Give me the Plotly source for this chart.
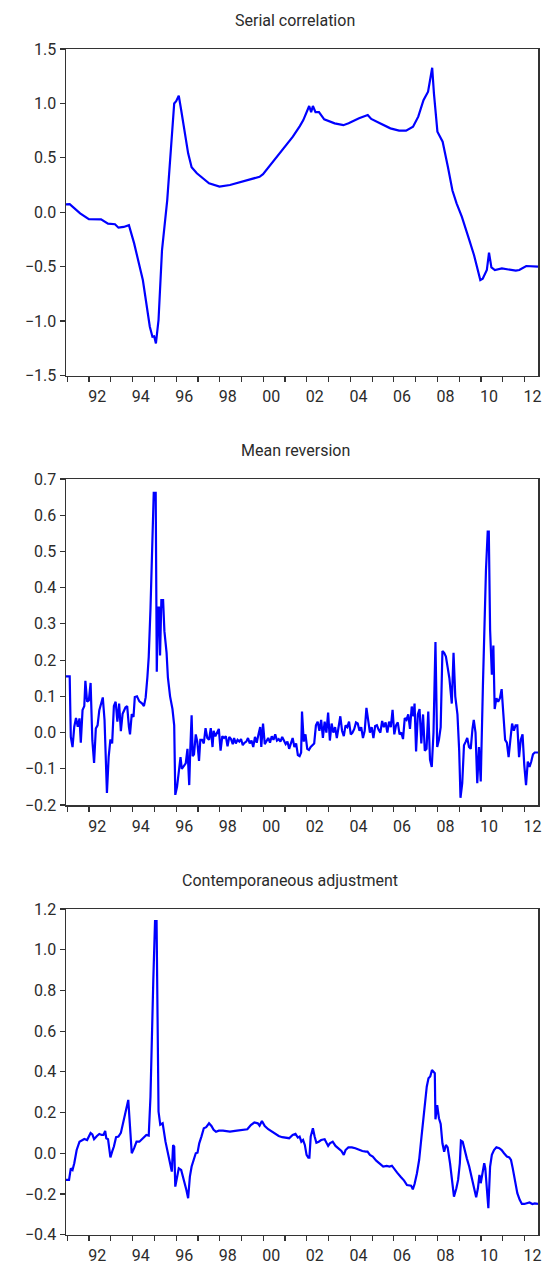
import plotly.graph_objects as go

# ---------------- data ----------------
sc_years = [1990.94, 1991.11, 1991.59, 1991.99, 1992.55, 1992.71, 1992.87, 1993.19, 1993.35, 1993.59,
            1993.83, 1994.07, 1994.47, 1994.79, 1994.91, 1994.99, 1995.07, 1995.19, 1995.35, 1995.59,
            1995.91, 1996.00, 1996.12, 1996.23, 1996.55, 1996.71, 1996.95, 1997.51, 1997.99, 1998.47,
            1999.11, 1999.83, 1999.99, 2000.71, 2001.36, 2001.68, 2001.84, 2002.11, 2002.20, 2002.28,
            2002.40, 2002.56, 2002.80, 2003.28, 2003.68, 2003.92, 2004.40, 2004.80, 2004.96, 2005.36,
            2005.84, 2006.24, 2006.56, 2006.88, 2007.12, 2007.36, 2007.57, 2007.76, 2007.84, 2008.00,
            2008.24, 2008.48, 2008.69, 2008.88, 2009.12, 2009.44, 2009.68, 2009.97, 2010.08, 2010.27,
            2010.37, 2010.48, 2010.64, 2010.96, 2011.28, 2011.60, 2011.76, 2012.08, 2012.62]
sc_vals = [0.073, 0.075, -0.010, -0.063, -0.065, -0.087, -0.105, -0.110, -0.142, -0.135,
           -0.118, -0.286, -0.623, -1.052, -1.144, -1.140, -1.205, -0.990, -0.347, 0.112,
           1.000, 1.020, 1.071, 0.940, 0.541, 0.413, 0.358, 0.266, 0.235, 0.250,
           0.287, 0.326, 0.350, 0.526, 0.694, 0.792, 0.847, 0.976, 0.920, 0.976,
           0.920, 0.920, 0.854, 0.817, 0.800, 0.817, 0.863, 0.893, 0.857, 0.817,
           0.771, 0.750, 0.750, 0.786, 0.878, 1.030, 1.108, 1.328, 1.093, 0.740,
           0.648, 0.418, 0.200, 0.082, -0.041, -0.240, -0.393, -0.623, -0.610, -0.531,
           -0.372, -0.506, -0.531, -0.516, -0.525, -0.537, -0.531, -0.494, -0.500]

mr_years = [1990.94, 1991.11, 1991.16, 1991.24, 1991.32, 1991.40, 1991.48, 1991.56, 1991.62, 1991.70,
            1991.78, 1991.83, 1991.91, 1991.99, 1992.07, 1992.15, 1992.23, 1992.31, 1992.39, 1992.47,
            1992.63, 1992.71, 1992.82, 1992.90, 1992.98, 1993.06, 1993.14, 1993.22, 1993.30, 1993.38,
            1993.46, 1993.54, 1993.67, 1993.75, 1993.83, 1993.88, 1993.96, 1994.04, 1994.10, 1994.20,
            1994.31, 1994.44, 1994.52, 1994.60, 1994.68, 1994.74, 1994.82, 1994.90, 1994.97, 1995.06,
            1995.11, 1995.16, 1995.21, 1995.26, 1995.32, 1995.40, 1995.46, 1995.56, 1995.62, 1995.72,
            1995.83, 1995.91, 1995.96, 1996.04, 1996.12, 1996.20, 1996.26, 1996.36, 1996.44, 1996.52,
            1996.60, 1996.65, 1996.71, 1996.76, 1996.82, 1996.90, 1996.97, 1997.05, 1997.11, 1997.19,
            1997.27, 1997.35, 1997.43, 1997.51, 1997.59, 1997.67, 1997.72, 1997.80, 1997.88, 1997.96,
            1998.04, 1998.12, 1998.20, 1998.28, 1998.36, 1998.44, 1998.52, 1998.60, 1998.66, 1998.74,
            1998.82, 1998.90, 1998.98, 1999.06, 1999.14, 1999.22, 1999.30, 1999.38, 1999.46, 1999.54,
            1999.62, 1999.70, 1999.78, 1999.86, 1999.91, 1999.99, 2000.07, 2000.15, 2000.23, 2000.31,
            2000.39, 2000.47, 2000.55, 2000.63, 2000.71, 2000.79, 2000.87, 2000.95, 2001.03, 2001.11,
            2001.19, 2001.27, 2001.35, 2001.43, 2001.51, 2001.59, 2001.67, 2001.74, 2001.78, 2001.86,
            2001.94, 2002.02, 2002.10, 2002.18, 2002.26, 2002.34, 2002.42, 2002.50, 2002.58, 2002.66,
            2002.74, 2002.82, 2002.90, 2002.98, 2003.06, 2003.14, 2003.22, 2003.30, 2003.38, 2003.46,
            2003.54, 2003.62, 2003.70, 2003.78, 2003.86, 2003.94, 2004.02, 2004.10, 2004.18, 2004.26,
            2004.34, 2004.42, 2004.50, 2004.58, 2004.66, 2004.74, 2004.82, 2004.90, 2004.98, 2005.06,
            2005.14, 2005.22, 2005.30, 2005.38, 2005.46, 2005.54, 2005.62, 2005.70, 2005.78, 2005.86,
            2005.94, 2006.02, 2006.10, 2006.18, 2006.26, 2006.34, 2006.42, 2006.50, 2006.58, 2006.66,
            2006.74, 2006.82, 2006.90, 2006.95, 2007.02, 2007.10, 2007.18, 2007.26, 2007.34, 2007.42,
            2007.50, 2007.58, 2007.66, 2007.74, 2007.82, 2007.91, 2007.99, 2008.07, 2008.15, 2008.23,
            2008.31, 2008.39, 2008.47, 2008.55, 2008.66, 2008.74, 2008.82, 2008.92, 2009.00, 2009.06,
            2009.14, 2009.22, 2009.30, 2009.37, 2009.45, 2009.53, 2009.61, 2009.67, 2009.75, 2009.83,
            2009.91, 2009.99, 2010.09, 2010.15, 2010.23, 2010.31, 2010.36, 2010.42, 2010.46, 2010.50,
            2010.57, 2010.63, 2010.71, 2010.79, 2010.87, 2010.95, 2011.03, 2011.11, 2011.19, 2011.27,
            2011.35, 2011.43, 2011.51, 2011.59, 2011.67, 2011.75, 2011.83, 2011.91, 2011.99, 2012.07,
            2012.15, 2012.23, 2012.31, 2012.39, 2012.47, 2012.62]
mr_vals = [0.155, 0.155, -0.012, -0.040, 0.016, 0.040, 0.016, 0.039, -0.028, 0.062,
           0.073, 0.143, 0.085, 0.089, 0.137, -0.021, -0.084, 0.011, 0.020, 0.062,
           0.097, 0.034, -0.167, -0.067, -0.019, -0.030, 0.073, 0.085, 0.030, 0.080,
           0.004, 0.052, 0.069, 0.073, 0.016, -0.005, 0.051, 0.043, 0.098, 0.100,
           0.086, 0.080, 0.073, 0.097, 0.154, 0.209, 0.340, 0.490, 0.662, 0.662,
           0.168, 0.345, 0.345, 0.213, 0.366, 0.366, 0.280, 0.220, 0.152, 0.100,
           0.065, 0.020, -0.172, -0.150, -0.115, -0.068, -0.100, -0.092, -0.085, -0.045,
           -0.145, -0.045, 0.048, -0.065, -0.060, -0.005, -0.025, -0.078, -0.020, -0.020,
           -0.030, 0.012, -0.015, -0.020, 0.012, -0.040, 0.005, -0.010, 0.000, 0.010,
           -0.050, -0.010, -0.015, -0.010, -0.038, -0.012, -0.018, -0.032, -0.015, -0.030,
           -0.020, -0.025, -0.018, -0.035, -0.028, -0.025, -0.015, -0.030, -0.022, -0.040,
           -0.012, -0.028, -0.005, 0.015, -0.040, 0.025, -0.032, -0.025, -0.015, -0.028,
           -0.010, -0.020, -0.005, -0.022, -0.018, -0.025, -0.012, -0.022, -0.032, -0.025,
           -0.045, -0.030, -0.015, -0.040, -0.030, -0.062, -0.065, -0.055, 0.058, -0.025,
           -0.005, -0.045, -0.048, -0.040, -0.035, -0.030, 0.020, 0.030, 0.005, 0.035,
           -0.015, 0.030, 0.000, 0.055, -0.022, 0.025, 0.000, 0.015, -0.015, 0.010,
           0.045, 0.005, -0.010, 0.020, 0.015, 0.030, -0.005, 0.000, 0.010, 0.028,
           0.025, 0.005, 0.015, -0.015, 0.005, 0.068, 0.025, 0.000, 0.015, -0.015,
           0.018, 0.020, 0.008, 0.000, 0.032, 0.015, 0.028, 0.000, 0.030, 0.015,
           0.063, -0.005, 0.020, 0.028, -0.005, 0.000, -0.018, 0.040, 0.035, 0.050,
           0.010, 0.072, 0.045, 0.080, -0.052, 0.050, 0.065, -0.030, 0.050, -0.050,
           -0.045, 0.058, -0.075, -0.095, 0.000, 0.250, -0.040, -0.020, 0.015, 0.225,
           0.220, 0.210, 0.180, 0.150, 0.080, 0.220, 0.100, 0.050, -0.050, -0.180,
           -0.140, -0.035, -0.025, -0.015, -0.040, -0.045, 0.010, 0.035, 0.000, -0.140,
           -0.040, -0.135, 0.130, 0.280, 0.449, 0.555, 0.555, 0.283, 0.200, 0.160,
           0.240, 0.065, 0.095, 0.085, 0.095, 0.120, 0.050, -0.020, -0.028, -0.068,
           -0.020, 0.025, 0.005, 0.020, 0.020, -0.068, -0.020, -0.005, -0.090, -0.145,
           -0.080, -0.095, -0.080, -0.060, -0.055, -0.055]

ca_years = [1990.94, 1991.08, 1991.16, 1991.24, 1991.32, 1991.43, 1991.56, 1991.67, 1991.78, 1991.91,
            1991.99, 1992.07, 1992.15, 1992.23, 1992.36, 1992.47, 1992.58, 1992.66, 1992.74, 1992.79,
            1992.87, 1992.98, 1993.06, 1993.14, 1993.24, 1993.35, 1993.46, 1993.59, 1993.70, 1993.80,
            1993.86, 1993.96, 1994.07, 1994.18, 1994.31, 1994.47, 1994.63, 1994.74, 1994.82, 1994.95,
            1995.03, 1995.10, 1995.14, 1995.19, 1995.27, 1995.38, 1995.51, 1995.67, 1995.80, 1995.86,
            1995.91, 1995.96, 1996.04, 1996.12, 1996.23, 1996.34, 1996.47, 1996.55, 1996.63, 1996.71,
            1996.82, 1996.90, 1996.98, 1997.06, 1997.16, 1997.27, 1997.38, 1997.51, 1997.62, 1997.72,
            1997.83, 1997.96, 1998.15, 1998.47, 1998.79, 1999.11, 1999.27, 1999.43, 1999.59, 1999.75,
            1999.83, 1999.94, 2000.07, 2000.23, 2000.39, 2000.55, 2000.71, 2000.87, 2001.03, 2001.19,
            2001.35, 2001.48, 2001.59, 2001.67, 2001.75, 2001.83, 2001.91, 2001.99, 2002.07, 2002.12,
            2002.18, 2002.28, 2002.36, 2002.44, 2002.55, 2002.66, 2002.82, 2002.90, 2002.98, 2003.06,
            2003.19, 2003.32, 2003.46, 2003.59, 2003.70, 2003.78, 2003.91, 2004.07, 2004.23, 2004.39,
            2004.55, 2004.71, 2004.79, 2004.90, 2005.03, 2005.19, 2005.35, 2005.51, 2005.67, 2005.80,
            2005.91, 2005.99, 2006.15, 2006.31, 2006.47, 2006.60, 2006.71, 2006.79, 2006.87, 2006.95,
            2007.06, 2007.16, 2007.27, 2007.40, 2007.51, 2007.59, 2007.67, 2007.75, 2007.83, 2007.88,
            2007.91, 2007.99, 2008.07, 2008.15, 2008.23, 2008.31, 2008.39, 2008.47, 2008.58, 2008.68,
            2008.76, 2008.87, 2008.95, 2009.03, 2009.08, 2009.16, 2009.24, 2009.35, 2009.46, 2009.59,
            2009.70, 2009.78, 2009.86, 2009.93, 2009.99, 2010.07, 2010.15, 2010.20, 2010.28, 2010.34,
            2010.42, 2010.50, 2010.60, 2010.71, 2010.84, 2010.95, 2011.06, 2011.19, 2011.30, 2011.38,
            2011.46, 2011.56, 2011.67, 2011.78, 2011.88, 2011.99, 2012.10, 2012.23, 2012.36, 2012.47,
            2012.62]
ca_vals = [-0.131, -0.131, -0.074, -0.082, -0.049, 0.016, 0.057, 0.065, 0.070, 0.065,
           0.082, 0.100, 0.093, 0.069, 0.085, 0.095, 0.090, 0.090, 0.110, 0.074,
           0.069, -0.020, 0.008, 0.033, 0.079, 0.082, 0.100, 0.164, 0.221, 0.262,
           0.164, 0.000, 0.025, 0.057, 0.057, 0.074, 0.090, 0.087, 0.278, 0.850,
           1.140, 1.140, 0.720, 0.205, 0.140, 0.147, 0.057, -0.033, -0.090, 0.040,
           0.033, -0.164, -0.115, -0.074, -0.082, -0.123, -0.180, -0.221, -0.115, -0.065,
           -0.025, 0.000, 0.003, 0.049, 0.082, 0.123, 0.128, 0.147, 0.134, 0.115,
           0.106, 0.111, 0.111, 0.106, 0.111, 0.115, 0.118, 0.139, 0.151, 0.147,
           0.136, 0.159, 0.134, 0.118, 0.106, 0.095, 0.085, 0.079, 0.077, 0.074,
           0.090, 0.095, 0.077, 0.082, 0.057, 0.065, 0.041, -0.008, -0.021, -0.021,
           0.082, 0.123, 0.082, 0.052, 0.057, 0.065, 0.069, 0.052, 0.036, 0.049,
           0.057, 0.036, 0.021, 0.011, -0.008, 0.016, 0.029, 0.029, 0.025, 0.016,
           0.011, 0.008, 0.008, -0.008, -0.016, -0.036, -0.052, -0.065, -0.062, -0.065,
           -0.061, -0.074, -0.095, -0.115, -0.134, -0.156, -0.160, -0.159, -0.177, -0.151,
           -0.098, -0.033, 0.082, 0.213, 0.327, 0.368, 0.377, 0.409, 0.401, 0.393,
           0.167, 0.237, 0.172, 0.144, 0.049, 0.008, 0.041, 0.029, -0.049, -0.131,
           -0.213, -0.172, -0.131, -0.049, 0.062, 0.057, 0.016, -0.025, -0.065, -0.131,
           -0.180, -0.216, -0.172, -0.106, -0.147, -0.098, -0.049, -0.074, -0.196, -0.270,
           -0.065, -0.008, 0.016, 0.029, 0.025, 0.016, 0.000, -0.016, -0.020, -0.033,
           -0.074, -0.131, -0.196, -0.229, -0.249, -0.249, -0.246, -0.242, -0.249, -0.246,
           -0.249]

titles = ["Serial correlation", "Mean reversion", "Contemporaneous adjustment"]
label_years = [1992, 1994, 1996, 1998, 2000, 2002, 2004, 2006, 2008, 2010, 2012]
tick_labels = ["92", "94", "96", "98", "00", "02", "04", "06", "08", "10", "12"]
year_ticks = list(range(1991, 2013))
y_ranges = [[-1.5, 1.5], [-0.2, 0.7], [-0.4, 1.2]]
y_dticks = [0.5, 0.1, 0.2]

# ---------------- figure ----------------
W, H = 547, 1267
FONT = "Roboto, Lato, sans-serif"
TXT = "#2b2b2b"
AX = "#333333"
# plot areas in pixel rows (top, bottom)
rows = [(49, 375.5), (479, 805), (909, 1234.7)]
title_rows = [21, 451, 880]
title_cols = [295, 295.5, 289.5]
xr = [1990.94, 2012.62]
ML, MR = 66, 9

series = [(sc_years, sc_vals), (mr_years, mr_vals), (ca_years, ca_vals)]

fig = go.Figure()
layout = dict(
    width=W, height=H,
    margin=dict(l=ML, r=MR, t=0, b=0),
    paper_bgcolor="white", plot_bgcolor="white",
    showlegend=False,
    font=dict(family=FONT, size=15, color=TXT),
    annotations=[],
)

for i, (xs, ys) in enumerate(series):
    sfx = "" if i == 0 else str(i + 1)
    fig.add_trace(go.Scatter(x=xs, y=ys, mode="lines",
                             line=dict(color="#0000FF", width=2.2),
                             xaxis="x" + sfx, yaxis="y" + sfx,
                             hoverinfo="skip"))
    top, bot = rows[i]
    dom = [1 - bot / H, 1 - top / H]
    layout["xaxis" + sfx] = dict(
        domain=[0, 1], range=xr, anchor="y" + sfx, automargin=False,
        tickmode="array",
        tickvals=[y + 0.37 for y in label_years], ticktext=tick_labels,
        ticks="outside", ticklen=6, tickcolor="rgba(0,0,0,0)",
        tickfont=dict(family=FONT, size=16, color=TXT),
        minor=dict(tickmode="array", tickvals=year_ticks, ticks="outside",
                   ticklen=5, tickwidth=1.2, tickcolor=AX),
        showline=True, linecolor=AX, linewidth=1.5, mirror=True,
        showgrid=False, zeroline=False, fixedrange=True,
    )
    layout["yaxis" + sfx] = dict(
        domain=dom, range=y_ranges[i], anchor="x" + sfx, automargin=False,
        dtick=y_dticks[i], tick0=0, tickformat=".1f",
        ticks="outside", ticklen=5, tickwidth=1.2, tickcolor=AX,
        tickfont=dict(family=FONT, size=16, color=TXT),
        showline=True, linecolor=AX, linewidth=1.5, mirror=True,
        showgrid=False, zeroline=False, fixedrange=True,
    )
    layout["annotations"].append(dict(
        text=titles[i], xref="paper", yref="paper",
        x=(title_cols[i] - ML) / (W - ML - MR), y=1 - title_rows[i] / H,
        xanchor="center", yanchor="middle", showarrow=False,
        font=dict(family=FONT, size=16, color=TXT),
    ))

fig.update_layout(**layout)
fig.write_html("out.html",
               config={"displayModeBar": False, "staticPlot": True},
               post_script="document.body.style.margin='0';"
                           "document.body.style.padding='0';"
                           "document.body.style.overflow='hidden';")
